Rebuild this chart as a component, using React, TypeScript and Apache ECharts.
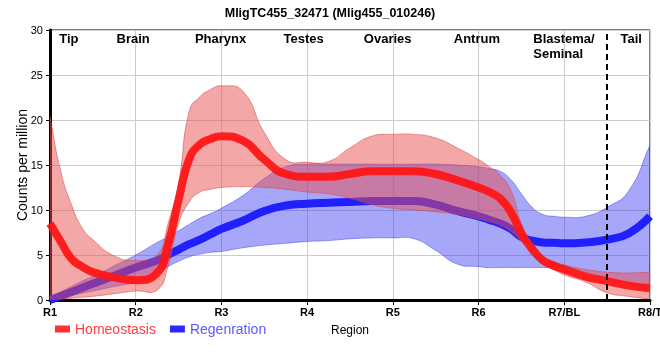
import React, { useEffect, useRef } from 'react';
import * as echarts from 'echarts';

// Sample positions along the region axis (R1 = 1 ... R8 = 8)
const xs = [1, 1.125, 1.25, 1.375, 1.5, 1.75, 2, 2.25, 2.375, 2.5, 2.625, 2.75, 2.875, 3, 3.25, 3.5, 3.75, 4, 4.25, 4.5, 4.75, 5, 5.25, 5.5, 5.75, 6, 6.125, 6.25, 6.375, 6.5, 6.625, 6.75, 6.875, 7, 7.25, 7.5, 7.75, 8];

// Homeostasis (red)
const homMean = [8.5, 6.5, 4.6, 3.7, 3.1, 2.5, 2.2, 3.0, 6.1, 11.1, 15.7, 17.3, 17.9, 18.2, 17.7, 15.6, 14.0, 13.7, 13.7, 14.0, 14.3, 14.3, 14.3, 14.0, 13.3, 12.5, 12.0, 11.3, 9.8, 7.4, 5.7, 4.4, 3.8, 3.4, 2.6, 2.1, 1.6, 1.3];
const homHi = [20.4, 14.3, 10.6, 8.0, 6.7, 4.9, 4.4, 5.0, 8.4, 13.0, 21.0, 22.6, 23.4, 23.8, 23.2, 18.6, 15.6, 15.3, 15.4, 16.9, 18.2, 18.4, 18.4, 18.0, 16.9, 15.6, 14.8, 13.9, 12.2, 8.5, 6.2, 4.9, 4.3, 3.9, 3.4, 3.1, 3.0, 3.1];
const homLo = [0, 0.1, 0.2, 0.3, 0.4, 0.7, 1.0, 1.1, 3.7, 8.5, 10.9, 12.0, 12.3, 12.5, 12.6, 12.5, 12.3, 12.0, 11.8, 11.3, 10.6, 10.2, 10.0, 9.8, 9.5, 9.0, 8.7, 8.3, 7.6, 6.5, 5.0, 4.0, 3.4, 2.8, 2.0, 0.8, 0.4, 0.1];

// Regeneration (blue)
const regMean = [0, 0.45, 0.9, 1.35, 1.8, 2.7, 3.6, 4.4, 5.0, 5.6, 6.2, 6.7, 7.3, 7.9, 8.8, 9.9, 10.5, 10.7, 10.8, 10.9, 11.0, 11.0, 11.0, 10.6, 9.9, 9.3, 8.9, 8.5, 7.9, 7.0, 6.6, 6.4, 6.35, 6.3, 6.4, 6.7, 7.4, 9.3];
const regHi = [0.3, 0.9, 1.5, 2.1, 2.6, 3.8, 5.0, 6.4, 7.0, 7.7, 8.4, 9.1, 9.6, 10.2, 11.6, 13.5, 14.8, 15.1, 15.1, 15.1, 15.1, 15.1, 15.1, 15.1, 15.0, 14.8, 14.6, 14.3, 13.4, 11.8, 10.3, 9.5, 9.3, 9.2, 9.3, 10.3, 12.1, 17.2];
const regLo = [0, 0.25, 0.5, 0.75, 1.0, 1.5, 2.0, 3.0, 3.7, 4.3, 4.8, 5.1, 5.3, 5.4, 5.8, 6.1, 6.3, 6.5, 6.6, 6.8, 6.9, 6.9, 6.8, 5.5, 4.0, 3.7, 3.6, 3.6, 3.6, 3.6, 3.6, 3.6, 3.6, 3.5, 3.1, 2.4, 1.8, 1.3];

const tickLabels = ['R1', 'R2', 'R3', 'R4', 'R5', 'R6', 'R7/BL', 'R8/T'];
const regionNames = ['Tip', 'Brain', 'Pharynx', 'Testes', 'Ovaries', 'Antrum', 'Blastema/\nSeminal', 'Tail'];
const regionX = [1.22, 1.97, 2.99, 3.96, 4.94, 5.98, 7, 7.78];
const dividerX = 7.5;

const SMOOTH = 0.5;

export default function App() {
  const ref = useRef<HTMLDivElement>(null);

  useEffect(() => {
    const chart = echarts.init(ref.current!, null, { renderer: 'svg' });
    const font = 'Liberation Sans, Arial, Helvetica, sans-serif';

    const band = (hi: number[], lo: number[], fill: string, stroke: string, z: number) => ({
      type: 'custom',
      silent: true,
      clip: true,
      z,
      data: [[1, 0]],
      renderItem: (_params: any, api: any) => {
        const up = xs.map((x, i) => api.coord([x, hi[i]]));
        const dn = xs.map((x, i) => api.coord([x, lo[i]])).reverse();
        const points = [up[0], ...up, up[up.length - 1], dn[0], ...dn, dn[dn.length - 1]];
        return {
          type: 'polygon',
          shape: { points, smooth: SMOOTH },
          style: { fill, stroke, lineWidth: 1 },
        };
      },
    });

    const option: any = {
      animation: false,
      textStyle: { fontFamily: font },
      title: {
        text: 'MligTC455_32471 (Mlig455_010246)',
        left: 'center',
        top: 1,
        textStyle: { fontSize: 12.5, fontWeight: 'bold', color: '#000', fontFamily: font },
      },
      grid: {
        left: 50, right: 10, top: 30, bottom: 60,
        outerBoundsMode: 'none',
        containLabel: false,
        show: true, borderColor: '#000', borderWidth: 1, backgroundColor: 'transparent',
      },
      legend: {
        left: 55,
        top: 322,
        padding: 0,
        icon: 'rect',
        itemWidth: 15,
        itemHeight: 7,
        itemGap: 14,
        textStyle: { fontSize: 14, fontFamily: font },
        data: [
          { name: 'Homeostasis', textStyle: { color: '#ff3c3c' } },
          { name: 'Regenration', textStyle: { color: '#5a5aff' } },
        ],
      },
      xAxis: {
        type: 'value',
        min: 1,
        max: 8,
        interval: 1,
        name: 'Region',
        nameLocation: 'middle',
        nameGap: 24,
        nameMoveOverlap: false,
        nameTextStyle: { fontSize: 12, color: '#000', fontFamily: font },
        axisLine: { show: true, onZero: false, lineStyle: { color: '#000', width: 3 } },
        axisTick: { show: true, length: 5, lineStyle: { color: '#000', width: 1 } },
        axisLabel: {
          formatter: (v: number) => tickLabels[Math.round(v) - 1] ?? '',
          fontWeight: 'bold', fontSize: 11, color: '#000', margin: 6, fontFamily: font,
        },
        splitLine: { show: true, lineStyle: { color: '#cccccc', width: 1 } },
      },
      yAxis: {
        type: 'value',
        min: 0,
        max: 30,
        interval: 5,
        name: 'Counts per million',
        nameLocation: 'middle',
        nameGap: 21,
        nameMoveOverlap: false,
        nameTextStyle: { fontSize: 14, color: '#000', fontFamily: font },
        axisLine: { show: true, onZero: false, lineStyle: { color: '#000', width: 3 } },
        axisTick: { show: true, length: 4, lineStyle: { color: '#000', width: 1 } },
        axisLabel: { fontSize: 11, color: '#000', margin: 7, fontFamily: font },
        splitLine: { show: true, lineStyle: { color: '#cccccc', width: 1 } },
      },
      series: [
        band(regHi, regLo, 'rgba(50,50,240,0.43)', 'rgba(50,50,230,0.45)', 1),
        {
          type: 'line',
          name: 'Regenration',
          z: 2,
          data: xs.map((x, i) => [x, regMean[i]]),
          smooth: SMOOTH,
          showSymbol: false,
          silent: true,
          color: '#2a2aff',
          lineStyle: { width: 8, color: '#2020ff' },
        },
        band(homHi, homLo, 'rgba(232,80,80,0.5)', 'rgba(220,60,60,0.5)', 3),
        {
          type: 'line',
          name: 'Homeostasis',
          z: 4,
          data: xs.map((x, i) => [x, homMean[i]]),
          smooth: SMOOTH,
          showSymbol: false,
          silent: true,
          color: '#ff3333',
          lineStyle: { width: 8, color: 'rgba(255,20,20,0.93)' },
          markLine: {
            silent: true,
            symbol: ['none', 'none'],
            label: { show: false },
            lineStyle: { color: '#000', type: [6, 4], width: 2 },
            data: [{ xAxis: dividerX }],
          },
        },
        {
          type: 'scatter',
          z: 10,
          silent: true,
          clip: false,
          symbolSize: 1,
          itemStyle: { color: 'transparent' },
          data: regionNames.map((n, i) => ({
            value: [regionX[i], 30],
            name: n,
            label: n.includes('\n') ? { align: 'left', offset: [-31, 0] } : undefined,
          })),
          label: {
            show: true,
            position: 'bottom',
            distance: 0,
            formatter: '{b}',
            fontWeight: 'bold',
            fontSize: 13,
            lineHeight: 15,
            color: '#000',
            opacity: 1,
            fontFamily: font,
          },
        },
      ],
    };

    chart.setOption(option);
    return () => chart.dispose();
  }, []);

  return <div ref={ref} style={{ position: 'fixed', left: 0, top: 0, width: 660, height: 360 }} />;
}
